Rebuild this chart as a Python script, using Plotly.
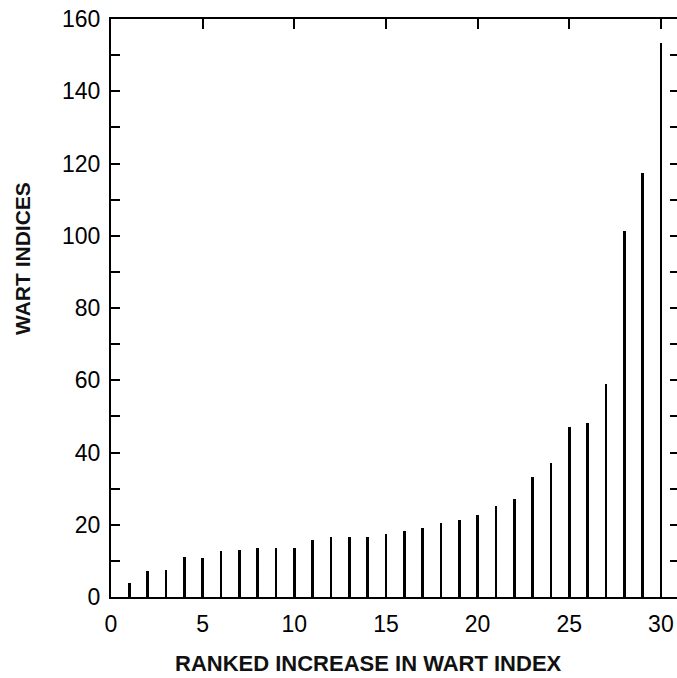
import plotly.graph_objects as go

ranks = list(range(1, 31))
wart_indices = [3.8, 7.3, 7.5, 11.0, 10.7, 12.8, 13.0, 13.7, 13.7, 13.5,
                15.7, 16.5, 16.5, 16.6, 17.5, 18.4, 19.2, 20.5, 21.2, 22.6,
                25.2, 27.1, 33.2, 37.2, 47.0, 48.1, 59.0, 101.4, 117.4, 153.3]

x_tick_vals = [0, 5, 10, 15, 20, 25, 30]
x_tick_text = ["0", "5", "10", "15", "20", "25", "30"]
y_tick_vals = list(range(0, 161, 10))
y_tick_text = [str(v) if v % 20 == 0 else "" for v in y_tick_vals]
top_tick_vals = [5, 10, 15, 20, 25, 30]
right_tick_vals = list(range(10, 160, 10))

FONT = "Liberation Sans, Arial, Helvetica, sans-serif"

L, T, PW, PH = 111, 19, 568, 578
W, H = 679, 678

fig = go.Figure()
fig.add_trace(go.Bar(x=ranks, y=wart_indices, width=0.15,
                     marker=dict(color="black", line=dict(width=0)),
                     showlegend=False))
# invisible trace to activate the secondary axes
fig.add_trace(go.Scatter(x=[None], y=[None], xaxis="x2", yaxis="y2",
                         showlegend=False, hoverinfo="skip"))

XR = [0, PW / 18.33]

fig.update_layout(
    width=W, height=H,
    margin=dict(l=L, r=W - L - PW, t=T, b=H - T - PH),
    paper_bgcolor="white", plot_bgcolor="white",
    font=dict(family=FONT, color="black"),
    bargap=0,
    xaxis=dict(range=XR, tickvals=x_tick_vals, ticktext=x_tick_text,
               ticks="", showgrid=False, zeroline=False,
               showline=True, linecolor="black", linewidth=2,
               ticklabeloverflow="allow",
               tickfont=dict(size=23, family=FONT), ticklabelstandoff=5),
    yaxis=dict(range=[0, 160], tickvals=y_tick_vals, ticktext=y_tick_text,
               ticks="inside", ticklen=9, tickwidth=2, tickcolor="black",
               showgrid=False, zeroline=False,
               showline=True, linecolor="black", linewidth=2,
               ticklabeloverflow="allow",
               tickfont=dict(size=23, family=FONT), ticklabelstandoff=4),
    xaxis2=dict(overlaying="x", side="top", matches="x", range=XR,
                tickvals=top_tick_vals, showticklabels=False,
                ticks="inside", ticklen=10, tickwidth=2, tickcolor="black",
                showgrid=False, zeroline=False,
                showline=True, linecolor="black", linewidth=2),
    yaxis2=dict(overlaying="y", side="right", matches="y", range=[0, 160],
                tickvals=right_tick_vals, showticklabels=False,
                ticks="inside", ticklen=9, tickwidth=2, tickcolor="black",
                showgrid=False, zeroline=False,
                showline=True, linecolor="black", linewidth=2),
    annotations=[
        dict(text="<b>RANKED INCREASE IN WART INDEX</b>", xref="paper", yref="paper",
             x=(368 - L) / PW, y=-(663 - (T + PH)) / PH, xanchor="center", yanchor="middle",
             showarrow=False, font=dict(size=22, family=FONT, color="#111")),
        dict(text="<b>WART INDICES</b>", xref="paper", yref="paper",
             x=-(L - 22) / PW, y=((T + PH) - 258) / PH, xanchor="center", yanchor="middle",
             textangle=-90, showarrow=False, font=dict(size=21, family=FONT, color="#111")),
    ],
)

fig.write_html(
    "out.html",
    config={"displayModeBar": False},
    post_script="document.body.style.margin='0';document.body.style.overflow='hidden';",
)
